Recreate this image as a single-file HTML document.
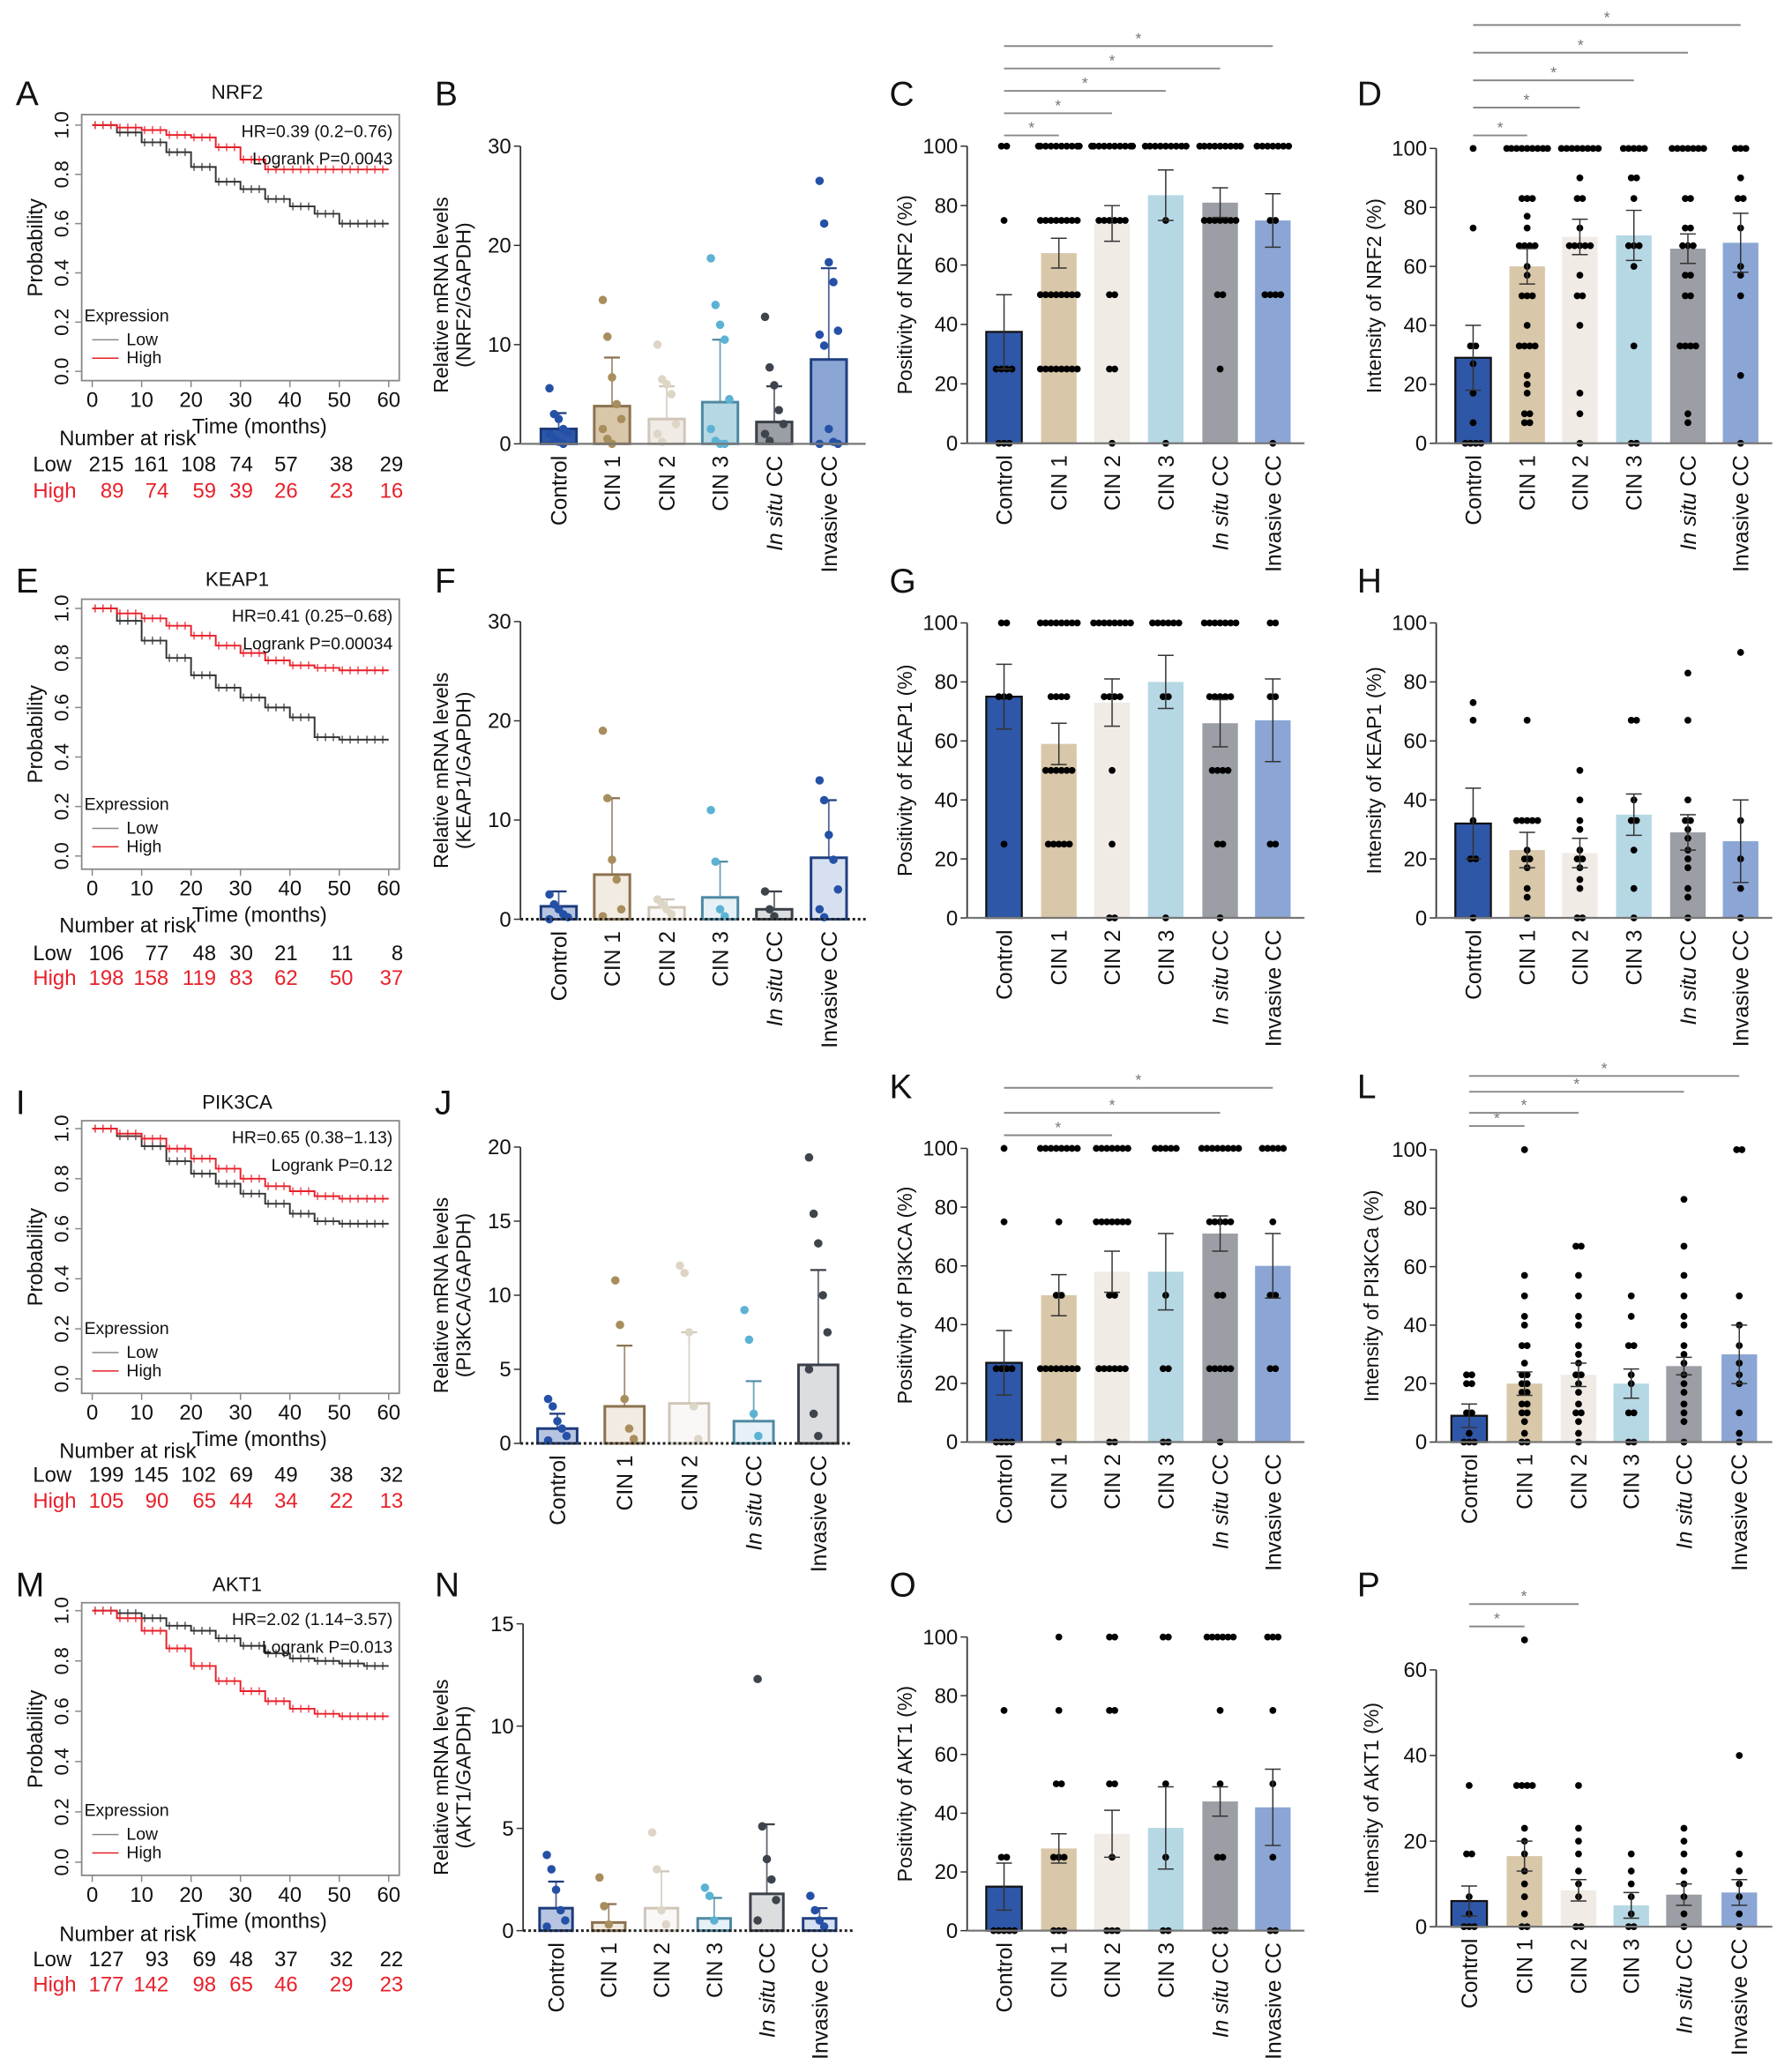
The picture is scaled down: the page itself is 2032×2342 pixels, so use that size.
<!DOCTYPE html>
<html><head><meta charset="utf-8"><style>
html,body{margin:0;padding:0;background:#fff;}
svg{display:block;font-family:"Liberation Sans",Arial,sans-serif;}
</style></head><body>
<svg id="fig" width="2032" height="2342" viewBox="0 0 1360 1568" preserveAspectRatio="none" xmlns="http://www.w3.org/2000/svg"></svg>
<script>
// ---------- DATA ----------
const kmTimes = [0,5,10,15,20,25,30,35,40,45,50,55,60];
const kmA_low  = [1,.97,.93,.89,.83,.77,.74,.70,.67,.64,.60,.60,.60];
const kmA_high = [1,.99,.98,.96,.95,.91,.86,.82,.82,.82,.82,.82,.82];
const kmE_low  = [1,.95,.87,.80,.73,.68,.64,.60,.56,.48,.47,.47,.47];
const kmE_high = [1,.98,.96,.93,.89,.85,.82,.79,.77,.76,.75,.75,.75];
const kmI_low  = [1,.97,.93,.87,.82,.78,.74,.70,.66,.63,.62,.62,.62];
const kmI_high = [1,.98,.96,.92,.88,.84,.80,.77,.75,.73,.72,.72,.72];
const kmM_low  = [1,.99,.97,.94,.92,.89,.86,.83,.81,.80,.79,.78,.78];
const kmM_high = [1,.97,.92,.85,.78,.72,.68,.64,.61,.59,.58,.58,.58];
const kmTitles = ['NRF2','KEAP1','PIK3CA','AKT1'];
const kmHR = ['HR=0.39 (0.2\u22120.76)','HR=0.41 (0.25\u22120.68)','HR=0.65 (0.38\u22121.13)','HR=2.02 (1.14\u22123.57)'];
const kmP = ['Logrank P=0.0043','Logrank P=0.00034','Logrank P=0.12','Logrank P=0.013'];
const riskLow = [[215,161,108,74,57,38,29],[106,77,48,30,21,11,8],[199,145,102,69,49,38,32],[127,93,69,48,37,32,22]];
const riskHigh = [[89,74,59,39,26,23,16],[198,158,119,83,62,50,37],[105,90,65,44,34,22,13],[177,142,98,65,46,29,23]];
const kmTicks = [0,10,20,30,40,50,60];
const probTicks = [0,0.2,0.4,0.6,0.8,1.0];

const cats6 = ['Control','CIN 1','CIN 2','CIN 3','In situ CC','Invasive CC'];
const cats5 = ['Control','CIN 1','CIN 2','In situ CC','Invasive CC'];

const bMeans=[1.5,3.8,2.5,4.2,2.2,8.5], bErr=[3.1,8.7,5.8,10.5,5.8,17.7];
const bDots=[[5.6,3,2.5,1.5,1.2,1,0.5,0.2,0],[14.5,10.8,6.7,4,2.5,1.5,0.5,0],[10,6.5,6,5,2,1,0.2],[18.7,14,12,10.5,4.5,1.5,0.3,0,0],[12.8,7.7,5.9,3.4,2,1,0.3],[26.5,22.2,18.3,16.3,11.4,11,9.9,1.5,0.2,0,0]];
const fMeans=[1.3,4.5,1.2,2.2,1.0,6.2], fErr=[2.8,12.2,2,5.8,2.8,12];
const fDots=[[2.5,1.5,1,0.5,0.2,0],[19,12.2,6,4,1,0.3],[2,1.5,1,0.5],[11,5.8,1,0.3],[2.8,1,0.3],[14,12,8.5,6,3,1,0.2]];
const jMeans=[1.0,2.5,2.7,1.5,5.3], jErr=[2.0,6.6,7.5,4.2,11.7];
const jDots=[[3,2.5,1.5,1,0.5,0.2],[11,8,3,1,0.3],[12,11.5,7.5,2.5,0.3],[9,7,2,0.5],[19.3,15.5,13.5,10,7.5,5,2,0.5]];
const nMeans=[1.1,0.4,1.1,0.6,1.8,0.6], nErr=[2.4,1.3,2.9,1.6,5.2,1.1];
const nDots=[[3.7,3,2,1,0.5,0.2],[2.6,1.2,0.3],[4.8,3,1,0.3],[2.1,1.7,0.5],[12.3,5.1,3.5,2.5,1.5,0.5],[1.7,1,0.5,0.2]];

const cMeans=[37.5,64,74,83.5,81,75], cSem=[12.5,5,6,8.5,5,9];
const cDots=[[100,100,75,25,25,25,25,0,0,0],[100,100,100,100,100,100,100,100,100,100,75,75,75,75,75,75,75,75,50,50,50,50,50,50,50,50,25,25,25,25,25,25,25,25],[100,100,100,100,100,100,100,100,100,100,75,75,75,75,75,75,50,50,25,25,0],[100,100,100,100,100,100,100,100,100,75,0],[100,100,100,100,100,100,100,100,100,75,75,75,75,75,75,75,50,50,25],[100,100,100,100,100,100,100,75,75,50,50,50,50,0]];
const dMeans=[29,60,70,70.5,66,68], dSem=[11,6,6,8.5,5,10];
const dDots=[[100,73,33,33,27,17,7,0,0,0,0],[100,100,100,100,100,100,100,100,100,83,83,83,77,73,67,67,67,67,60,57,50,50,50,40,33,33,33,33,23,20,17,10,10,7,7],[100,100,100,100,100,100,100,100,90,83,83,73,67,67,67,67,67,57,50,50,40,17,10,0],[100,100,100,100,100,90,90,83,67,67,67,60,33,0,0],[100,100,100,100,100,100,100,83,83,73,73,67,67,67,57,57,50,50,33,33,33,33,10,7],[100,100,100,90,83,83,73,60,57,50,23,0]];
const gMeans=[75,59,73,80,66,67], gSem=[11,7,8,9,8,14];
const gDots=[[100,100,75,75,75,25],[100,100,100,100,100,100,100,100,75,75,75,75,50,50,50,50,50,50,25,25,25,25,25],[100,100,100,100,100,100,100,100,75,75,75,75,50,25,0,0],[100,100,100,100,100,100,75,75,0],[100,100,100,100,100,100,100,75,75,75,75,75,50,50,50,50,25,25,0],[100,100,75,75,25,25]];
const hMeans=[32,23,22,35,29,26], hSem=[12,6,5,7,6,14];
const hDots=[[73,67,33,20,20,0],[67,33,33,33,33,33,23,20,20,17,10,7,0],[50,40,33,30,23,20,20,17,13,10,0,0],[67,67,40,33,33,23,10,0],[83,67,40,33,33,30,27,23,20,17,10,7,0],[90,33,20,10,0]];
const kMeans=[27,50,58,58,71,60], kSem=[11,7,7,13,6,11];
const kDots=[[100,75,25,25,25,25,0,0,0,0],[100,100,100,100,100,100,100,100,75,50,50,25,25,25,25,25,25,25,25,0],[100,100,100,100,100,100,100,75,75,75,75,75,75,75,50,50,25,25,25,25,25,25,0,0],[100,100,100,100,100,50,25,25,0,0],[100,100,100,100,100,100,100,100,75,75,75,75,75,50,50,25,25,25,25,25,0],[100,100,100,100,100,75,50,50,25,25]];
const lMeans=[9,20,23,20,26,30], lSem=[4,4,4,5,3,10];
const lDots=[[23,23,20,20,10,10,3,0,0,0],[100,57,50,43,40,33,33,27,23,23,20,20,17,17,13,13,10,10,7,3,0,0],[67,67,57,50,43,40,33,30,27,23,23,20,17,13,10,10,7,3,0],[50,43,33,33,23,20,10,10,0,0],[83,67,57,50,43,40,33,30,27,23,20,17,13,10,7,0],[100,100,50,40,33,27,23,20,10,3,0]];
const oMeans=[15,28,33,35,44,42], oSem=[8,5,8,14,5,13];
const oDots=[[75,25,25,0,0,0,0,0],[100,75,50,50,25,25,25,0,0,0],[100,100,75,75,50,50,25,0,0,0],[100,100,50,25,0,0],[100,100,100,100,100,100,75,50,25,25,0,0,0],[100,100,100,75,50,25,0,0]];
const pMeans=[6,16.5,8.5,5,7.5,8], pSem=[3.5,3.5,2.5,3,2.5,3];
const pDots=[[33,17,17,7,3,0,0,0],[67,33,33,33,33,23,20,17,13,10,7,3,0,0],[33,23,20,17,13,10,7,0,0],[17,13,10,7,3,0,0],[23,20,17,13,10,7,3,0],[40,17,13,10,7,3,0]];

// ---------- DRAW ----------
const NS='http://www.w3.org/2000/svg';
const svg=document.getElementById('fig');
function mk(tag,attrs,parent){const e=document.createElementNS(NS,tag);for(const k in attrs)e.setAttribute(k,attrs[k]);(parent||svg).appendChild(e);return e;}
function txt(s,x,y,size,extra,parent){const t=mk('text',Object.assign({x:x,y:y,'font-size':size,fill:'#111'},extra||{}),parent);t.textContent=s;return t;}

const fills=['#2f57a8','#d9c7a9','#f0ebe5','#b5d8e4','#9b9ea4','#8ba6d5'];
const strokes=['#1c3b7c','#8c7250','#cfc6b8','#4d8aa2','#3b4048','#1f3f80'];
const dotCols=['#2450a6','#a88e5c','#ddd5c6','#5cb2d4','#3e444c','#2450a6'];

const letters=[['A',12,80],['B',330,80],['C',675,80],['D',1030,80],['E',12,450],['F',330,450],['G',675,450],['H',1030,450],['I',12,846],['J',330,846],['K',675,834],['L',1030,834],['M',12,1212],['N',330,1212],['O',675,1212],['P',1030,1212]];
letters.forEach(l=>{const t=txt(l[0],l[1],l[2],26,{});});

const kmLow=[kmA_low,kmE_low,kmI_low,kmM_low], kmHigh=[kmA_high,kmE_high,kmI_high,kmM_high];
const kmLay=[{top:87,bot:289,y1:95,y0:282,title:75,nar:338,low:358,high:378},{top:455,bot:660,y1:462,y0:650,title:445,nar:708,low:729,high:748},{top:851,bot:1058,y1:857,y0:1047,title:842,nar:1107,low:1125,high:1145},{top:1217,bot:1424,y1:1223,y0:1414,title:1208,nar:1474,low:1493,high:1512}];
kmLay.forEach((L,r)=>{
  const g=mk('g',{});
  
  
  const bx0=62,bx1=303,t0=70,t60=295;
  const X=t=>t0+t/60*(t60-t0), Y=p=>L.y0-p*(L.y0-L.y1);
  mk('rect',{x:bx0,y:L.top,width:bx1-bx0,height:L.bot-L.top,fill:'none',stroke:'#888','stroke-width':1.2},g);
  txt(kmTitles[r],180,L.title,15,{'text-anchor':'middle'},g);
  probTicks.forEach(p=>{mk('line',{x1:bx0-5,x2:bx0,y1:Y(p),y2:Y(p),stroke:'#888'},g);
    txt(p.toFixed(1),bx0-10,Y(p),15,{'text-anchor':'middle',transform:`rotate(-90 ${bx0-10} ${Y(p)})`},g);});
  txt('Probability',32,(L.top+L.bot)/2,16,{'text-anchor':'middle',transform:`rotate(-90 32 ${(L.top+L.bot)/2})`},g);
  kmTicks.forEach(t=>{mk('line',{x1:X(t),x2:X(t),y1:L.bot,y2:L.bot+5,stroke:'#888'},g);txt(String(t),X(t),L.bot+20,16,{'text-anchor':'middle'},g);});
  txt('Time (months)',197,L.bot+40,16,{'text-anchor':'middle'},g);
  [[kmLow[r],'#333'],[kmHigh[r],'#e8202a']].forEach(([arr,col],si)=>{
    let d='M'+X(kmTimes[0])+' '+Y(arr[0]);
    for(let i=1;i<arr.length;i++){d+=' H'+X(kmTimes[i])+' V'+Y(arr[i]);}
    const p=mk('path',{d:d,fill:'none',stroke:col,'stroke-width':1.3},g);
    
    
    for(let i=0;i<arr.length;i++){for(let k=0;k<3;k++){const tx=X(kmTimes[i]+k*1.6+0.6);if(tx<=t60)mk('line',{x1:tx,x2:tx,y1:Y(arr[i])-3,y2:Y(arr[i])+3,stroke:col,'stroke-width':0.8},g);}}
  });
  txt(kmHR[r],298,L.top+17,13,{'text-anchor':'end'},g);
  txt(kmP[r],298,L.top+38,13,{'text-anchor':'end'},g);
  const ly=L.bot-45;
  txt('Expression',64,ly,13,{},g);
  mk('line',{x1:70,x2:90,y1:ly+14,y2:ly+14,stroke:'#888'},g);txt('Low',96,ly+18,13,{},g);
  mk('line',{x1:70,x2:90,y1:ly+28,y2:ly+28,stroke:'#e8202a'},g);txt('High',96,ly+32,13,{},g);
  txt('Number at risk',45,L.nar,16,{},g);
  txt('Low',25,L.low,16,{},g);txt('High',25,L.high,16,{fill:'#e8202a'},g);
  const cols=[94,128,164,192,226,268,306];
  riskLow[r].forEach((v,i)=>txt(String(v),cols[i],L.low,16,{'text-anchor':'end'},g));
  riskHigh[r].forEach((v,i)=>txt(String(v),cols[i],L.high,16,{'text-anchor':'end',fill:'#e8202a'},g));
});

function catLabel(g,s,x,y){
  const t=mk('text',{x:x,y:y,'font-size':16.5,'text-anchor':'end',fill:'#111',transform:`rotate(-90 ${x} ${y})`,dy:'6'},g);
  if(s.indexOf('In situ')===0){const a=mk('tspan',{'font-style':'italic'},t);a.textContent='In situ';const b=mk('tspan',{},t);b.textContent=' CC';}
  else t.textContent=s;
}

function barPanel(c){
  const g=mk('g',{});
  
  
  const Y=v=>c.y0-v/c.ymax*(c.y0-c.yTop);
  mk('line',{x1:c.ax,x2:c.ax,y1:Y(c.ticks[c.ticks.length-1]),y2:c.y0,stroke:'#333','stroke-width':1.2},g);
  c.ticks.forEach(t=>{mk('line',{x1:c.ax-5,x2:c.ax,y1:Y(t),y2:Y(t),stroke:'#333'},g);txt(String(t),c.ax-7,Y(t)+5.5,16,{'text-anchor':'end'},g);});
  const mrna=c.type==='mrna';
  c.means.forEach((m,i)=>{
    const x=c.xs[i], ci=c.colIdx[i], w=c.w;
    const b=mk('rect',{x:x-w/2,y:Y(m),width:w,height:c.y0-Y(m),fill:fills[ci],'fill-opacity':mrna?c.fo:1,stroke:mrna?strokes[ci]:(ci===0?'#111':'none'),'stroke-width':mrna?2:1.5},g);
    
    
    const ec=mrna?strokes[ci]:'#333';
    if(mrna){mk('line',{x1:x,x2:x,y1:Y(m),y2:Y(c.errs[i]),stroke:ec,'stroke-width':1.2,'stroke-opacity':0.8},g);
      mk('line',{x1:x-6,x2:x+6,y1:Y(c.errs[i]),y2:Y(c.errs[i]),stroke:ec,'stroke-width':1.5},g);}
    const groups={};
    c.dots[i].forEach(v=>{groups[v]=(groups[v]||0)+1;});
    if(mrna){c.dots[i].forEach((v,k)=>{const d=mk('circle',{cx:x+((k%5)-2)*3.5,cy:Y(v),r:3.2,fill:dotCols[ci]},g);});}
    else{Object.keys(groups).forEach(v=>{const n=groups[v];for(let k=0;k<n;k++){const off=Math.max(-w/2-2,Math.min(w/2+2,(k-(n-1)/2)*4));const d=mk('circle',{cx:x+off,cy:Y(+v),r:2.6,fill:'#000'},g);}});}
    if(!mrna){const lo=Y(m-c.errs[i]),hi=Y(m+c.errs[i]);
      mk('line',{x1:x,x2:x,y1:lo,y2:hi,stroke:ec,'stroke-width':1},g);
      mk('line',{x1:x-6,x2:x+6,y1:hi,y2:hi,stroke:ec,'stroke-width':1},g);
      mk('line',{x1:x-6,x2:x+6,y1:lo,y2:lo,stroke:ec,'stroke-width':1},g);}
    catLabel(g,c.cats[i],x,c.y0+9);
  });
  mk('line',{x1:c.ax,x2:c.axEnd,y1:c.y0,y2:c.y0,stroke:c.dashed?'#222':'#777','stroke-width':c.dashed?2:1.5,'stroke-dasharray':c.dashed?'2 2':'none'},g);
  const mid=(c.y0+Y(c.ticks[c.ticks.length-1]))/2;
  c.title.forEach((s,k)=>{const tx=c.tx+k*17;txt(s,tx,mid,15.5,{'text-anchor':'middle',transform:`rotate(-90 ${tx} ${mid})`},g);});
  (c.sig||[]).forEach(s=>{const x1=c.xs[0],x2=c.xs[s[0]];
    mk('line',{x1:x1,x2:x2,y1:s[1],y2:s[1],stroke:'#888','stroke-width':1.3},g);
    txt('*',(x1+x2)/2,s[1]-2,12,{'text-anchor':'middle',fill:'#777'},g);});
}

const xsB=[424,464.5,506,546.5,587.6,629], xsC=[762,803.6,844,884.7,926,966], xsD=[1118,1159,1199,1240,1281,1321];
const xsJ=[423,474,523,572,621], xsN=[422,462,502,542,582,622];
const c6=[0,1,2,3,4,5];
barPanel({name:'panel-b-nrf2-mrna',type:'mrna',fo:1,ax:395,axEnd:657,y0:337,yTop:111,ymax:30,ticks:[0,10,20,30],xs:xsB,w:27,cats:cats6,colIdx:c6,means:bMeans,errs:bErr,dots:bDots,title:['Relative mRNA levels','(NRF2/GAPDH)'],tx:340});
barPanel({name:'panel-c-nrf2-positivity',type:'ihc',ax:734,axEnd:990,y0:336.6,yTop:111,ymax:100,ticks:[0,20,40,60,80,100],xs:xsC,w:27,cats:cats6,colIdx:c6,means:cMeans,errs:cSem,dots:cDots,title:['Positivity of NRF2 (%)'],tx:692,sig:[[1,102.8],[2,86],[3,69],[4,52],[5,35]]});
barPanel({name:'panel-d-nrf2-intensity',type:'ihc',ax:1090,axEnd:1345,y0:336.6,yTop:112.7,ymax:100,ticks:[0,20,40,60,80,100],xs:xsD,w:27,cats:cats6,colIdx:c6,means:dMeans,errs:dSem,dots:dDots,title:['Intensity of NRF2 (%)'],tx:1048,sig:[[1,102.8],[2,81.7],[3,61],[4,40],[5,19]]});
barPanel({name:'panel-f-keap1-mrna',type:'mrna',fo:0.35,dashed:true,ax:395,axEnd:657,y0:698,yTop:472,ymax:30,ticks:[0,10,20,30],xs:xsB,w:27,cats:cats6,colIdx:c6,means:fMeans,errs:fErr,dots:fDots,title:['Relative mRNA levels','(KEAP1/GAPDH)'],tx:340});
barPanel({name:'panel-g-keap1-positivity',type:'ihc',ax:734,axEnd:990,y0:697,yTop:473,ymax:100,ticks:[0,20,40,60,80,100],xs:xsC,w:27,cats:cats6,colIdx:c6,means:gMeans,errs:gSem,dots:gDots,title:['Positivity of KEAP1 (%)'],tx:692});
barPanel({name:'panel-h-keap1-intensity',type:'ihc',ax:1090,axEnd:1345,y0:697,yTop:473,ymax:100,ticks:[0,20,40,60,80,100],xs:xsD,w:27,cats:cats6,colIdx:c6,means:hMeans,errs:hSem,dots:hDots,title:['Intensity of KEAP1 (%)'],tx:1048});
barPanel({name:'panel-j-pik3ca-mrna',type:'mrna',fo:0.35,dashed:true,ax:395,axEnd:645,y0:1096,yTop:871,ymax:20,ticks:[0,5,10,15,20],xs:xsJ,w:30,cats:cats5,colIdx:[0,1,2,3,4],means:jMeans,errs:jErr,dots:jDots,title:['Relative mRNA levels','(PI3KCA/GAPDH)'],tx:340});
barPanel({name:'panel-k-pik3ca-positivity',type:'ihc',ax:734,axEnd:990,y0:1095,yTop:872,ymax:100,ticks:[0,20,40,60,80,100],xs:xsC,w:27,cats:cats6,colIdx:c6,means:kMeans,errs:kSem,dots:kDots,title:['Positivity of PI3KCA (%)'],tx:692,sig:[[2,862],[4,845],[5,826]]});
barPanel({name:'panel-l-pik3ca-intensity',type:'ihc',ax:1090,axEnd:1345,y0:1095,yTop:873,ymax:100,ticks:[0,20,40,60,80,100],xs:[1115,1157,1198,1238,1278,1320],w:27,cats:cats6,colIdx:c6,means:lMeans,errs:lSem,dots:lDots,title:['Intensity of PI3KCa (%)'],tx:1046,sig:[[1,855],[2,845],[4,829],[5,817]]});
barPanel({name:'panel-n-akt1-mrna',type:'mrna',fo:0.35,dashed:true,ax:397,axEnd:648,y0:1466,yTop:1233,ymax:15,ticks:[0,5,10,15],xs:xsN,w:25,cats:cats6,colIdx:c6,means:nMeans,errs:nErr,dots:nDots,title:['Relative mRNA levels','(AKT1/GAPDH)'],tx:340});
barPanel({name:'panel-o-akt1-positivity',type:'ihc',ax:734,axEnd:990,y0:1466,yTop:1243,ymax:100,ticks:[0,20,40,60,80,100],xs:xsC,w:27,cats:cats6,colIdx:c6,means:oMeans,errs:oSem,dots:oDots,title:['Positivity of AKT1 (%)'],tx:692});
barPanel({name:'panel-p-akt1-intensity',type:'ihc',ax:1090,axEnd:1345,y0:1463,yTop:1268,ymax:60,ticks:[0,20,40,60],xs:[1115,1157,1198,1238,1278,1320],w:27,cats:cats6,colIdx:c6,means:pMeans,errs:pSem,dots:pDots,title:['Intensity of AKT1 (%)'],tx:1046,sig:[[1,1235],[2,1218]]});
</script>
</body></html>
